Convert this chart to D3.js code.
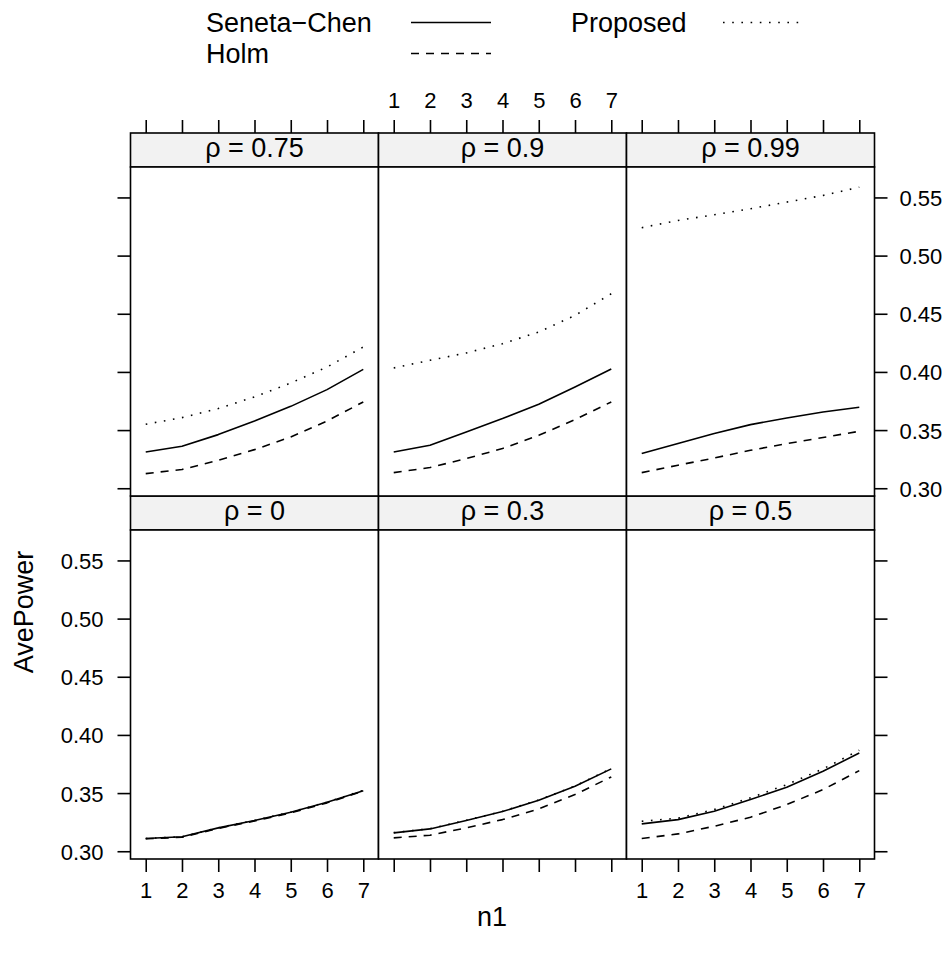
<!DOCTYPE html>
<html>
<head>
<meta charset="utf-8">
<script src="https://cdn.jsdelivr.net/npm/d3@7"></script>
<style>
  html, body { margin: 0; padding: 0; background: #fff; }
  svg { display: block; }
  text { font-family: "Liberation Sans", Arial, Helvetica, sans-serif; fill: #000; }
</style>
</head>
<body>
<svg id="chart" width="952" height="953"></svg>
<script>
// ---------------- data ----------------
const n1 = [1, 2, 3, 4, 5, 6, 7];
const rhoLabels = ["0", "0.3", "0.5", "0.75", "0.9", "0.99"];
const seriesNames = ["Seneta\u2212Chen", "Holm", "Proposed"];
const yTicks = [0.30, 0.35, 0.40, 0.45, 0.50, 0.55];
const yTickLabels = ["0.30", "0.35", "0.40", "0.45", "0.50", "0.55"];
const xTickLabels = ["1", "2", "3", "4", "5", "6", "7"];

// one row per rho (same order as rhoLabels)
const senetaChen = [
  [0.3109, 0.3124, 0.3201, 0.3264, 0.3335, 0.3421, 0.3521],
  [0.3158, 0.3192, 0.3264, 0.3341, 0.3438, 0.3558, 0.3708],
  [0.3235, 0.3272, 0.3344, 0.3444, 0.3550, 0.3687, 0.3845],
  [0.3312, 0.3361, 0.3461, 0.3578, 0.3704, 0.3848, 0.4022],
  [0.3312, 0.3369, 0.3484, 0.3599, 0.3722, 0.3870, 0.4025],
  [0.3298, 0.3384, 0.3470, 0.3547, 0.3604, 0.3656, 0.3696]
];
const holm = [
  [0.3107, 0.3120, 0.3196, 0.3260, 0.3330, 0.3416, 0.3517],
  [0.3115, 0.3138, 0.3201, 0.3272, 0.3364, 0.3487, 0.3639],
  [0.3109, 0.3149, 0.3215, 0.3292, 0.3401, 0.3530, 0.3693],
  [0.3126, 0.3161, 0.3241, 0.3332, 0.3441, 0.3578, 0.3742],
  [0.3134, 0.3178, 0.3255, 0.3341, 0.3455, 0.3590, 0.3742],
  [0.3134, 0.3198, 0.3260, 0.3326, 0.3384, 0.3436, 0.3490]
];
const proposed = [
  [0.3110, 0.3124, 0.3202, 0.3265, 0.3336, 0.3422, 0.3523],
  [0.3160, 0.3194, 0.3266, 0.3343, 0.3440, 0.3561, 0.3711],
  [0.3258, 0.3284, 0.3358, 0.3459, 0.3573, 0.3708, 0.3868],
  [0.3550, 0.3607, 0.3685, 0.3785, 0.3905, 0.4042, 0.4214],
  [0.4034, 0.4100, 0.4163, 0.4243, 0.4343, 0.4486, 0.4672],
  [0.5240, 0.5302, 0.5351, 0.5403, 0.5460, 0.5517, 0.5588]
];

// ---------------- layout ----------------
const svg = d3.select("#chart");
const left = 130.5, colW = 248;
const topY = 133, stripH = 34, panelH = 329;
const tickLen = 13;
const axisFont = 22, stripFont = 27, labelFont = 27, keyFont = 27;
const LW = 1.6;
const styles = [
  { dash: null },
  { dash: "8,7" },
  { dash: "1.6,7.6" }
];

// scales (lattice-style 7% padding)
const allVals = [].concat(...senetaChen, ...holm, ...proposed);
const yMin = d3.min(allVals), yMax = d3.max(allVals), yr = yMax - yMin;
const y = d3.scaleLinear().domain([yMin - 0.07 * yr, yMax + 0.07 * yr]).range([panelH, 0]);
const xr = d3.max(n1) - d3.min(n1);
const x = d3.scaleLinear().domain([d3.min(n1) - 0.07 * xr, d3.max(n1) + 0.07 * xr]).range([0, colW]);

// panel placement: bottom row rho 0,0.3,0.5 ; top row 0.75,0.9,0.99
function panelPos(i) {
  const row = i < 3 ? 1 : 0;   // 0 = top row
  const col = i % 3;
  return { x: left + col * colW, yStrip: topY + row * (stripH + panelH), row, col };
}

const line = d3.line().x((d, j) => x(n1[j])).y(d => y(d));

rhoLabels.forEach((rho, i) => {
  const p = panelPos(i);
  const g = svg.append("g").attr("transform", `translate(${p.x},${p.yStrip})`);
  // strip
  g.append("rect").attr("x", 0).attr("y", 0).attr("width", colW).attr("height", stripH)
    .attr("fill", "#f2f2f2").attr("stroke", "#000").attr("stroke-width", LW);
  g.append("text").attr("x", colW / 2).attr("y", 24.3)
    .attr("text-anchor", "middle").attr("font-size", stripFont)
    .text("\u03c1 = " + rho);

  const pg = g.append("g").attr("transform", `translate(0,${stripH})`);
  pg.append("rect").attr("x", 0).attr("y", 0).attr("width", colW).attr("height", panelH)
    .attr("fill", "#fff").attr("stroke", "none");

  [senetaChen, holm, proposed].forEach((series, s) => {
    const path = pg.append("path").datum(series[i]).attr("d", line)
      .attr("fill", "none").attr("stroke", "#000").attr("stroke-width", LW)
      .attr("stroke-linejoin", "round");
    if (styles[s].dash) path.attr("stroke-dasharray", styles[s].dash);
  });

  pg.append("rect").attr("x", 0).attr("y", 0).attr("width", colW).attr("height", panelH)
    .attr("fill", "none").attr("stroke", "#000").attr("stroke-width", LW);

  // y axes
  if (p.col === 0) {
    const ax = d3.axisLeft(y).tickValues(yTicks).tickSize(tickLen).tickPadding(14)
      .tickFormat((d, k) => p.row === 1 ? yTickLabels[k] : "");
    const a = pg.append("g").call(ax);
    a.select(".domain").remove();
    a.selectAll("line").attr("stroke-width", LW);
    a.selectAll("text").attr("font-size", axisFont).attr("font-family", null).attr("dy", "0.36em");
  }
  if (p.col === 2) {
    const ax = d3.axisRight(y).tickValues(yTicks).tickSize(tickLen).tickPadding(12)
      .tickFormat((d, k) => p.row === 0 ? yTickLabels[k] : "");
    const a = pg.append("g").attr("transform", `translate(${colW},0)`).call(ax);
    a.select(".domain").remove();
    a.selectAll("line").attr("stroke-width", LW);
    a.selectAll("text").attr("font-size", axisFont).attr("font-family", null).attr("dy", "0.36em");
  }
  // x axes
  if (p.row === 1) {
    const ax = d3.axisBottom(x).tickValues(n1).tickSize(tickLen).tickPadding(10)
      .tickFormat((d, k) => p.col !== 1 ? xTickLabels[k] : "");
    const a = pg.append("g").attr("transform", `translate(0,${panelH})`).call(ax);
    a.select(".domain").remove();
    a.selectAll("line").attr("stroke-width", LW);
    a.selectAll("text").attr("font-size", axisFont).attr("font-family", null);
  } else {
    const ax = d3.axisTop(x).tickValues(n1).tickSize(tickLen).tickPadding(12)
      .tickFormat((d, k) => p.col === 1 ? xTickLabels[k] : "");
    const a = g.append("g").call(ax);
    a.select(".domain").remove();
    a.selectAll("line").attr("stroke-width", LW);
    a.selectAll("text").attr("font-size", axisFont).attr("font-family", null);
  }
});

// axis titles
svg.append("text").attr("transform", "translate(33,612) rotate(-90)")
  .attr("text-anchor", "middle").attr("font-size", labelFont).text("AvePower");
svg.append("text").attr("x", 492).attr("y", 926)
  .attr("text-anchor", "middle").attr("font-size", labelFont).text("n1");

// legend (key)
const keyItems = [
  { name: seriesNames[0], tx: 206, lx: 411, row: 0, s: 0 },
  { name: seriesNames[1], tx: 206, lx: 411, row: 1, s: 1 },
  { name: seriesNames[2], tx: 571, lx: 723, row: 0, s: 2 }
];
const rowBase = [32, 63];
keyItems.forEach(k => {
  svg.append("text").attr("x", k.tx).attr("y", rowBase[k.row]).attr("font-size", keyFont).text(k.name);
  const ly = rowBase[k.row] - 9.5;
  const l = svg.append("line").attr("x1", k.lx).attr("x2", k.lx + 80).attr("y1", ly).attr("y2", ly)
    .attr("stroke", "#000").attr("stroke-width", LW);
  if (styles[k.s].dash) l.attr("stroke-dasharray", styles[k.s].dash);
});
</script>
</body>
</html>
